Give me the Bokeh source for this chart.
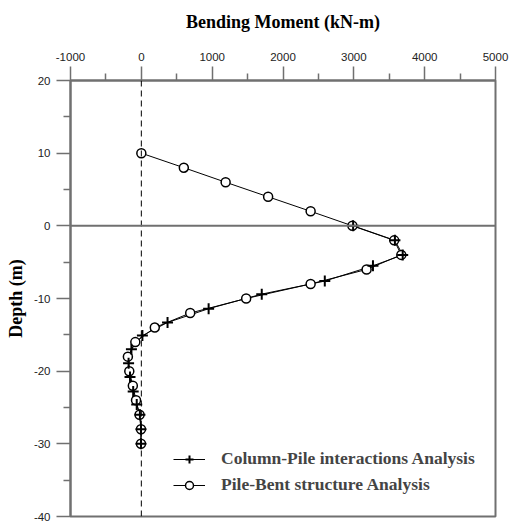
from bokeh.plotting import figure
from bokeh.models import Range1d, FixedTicker, Span, Legend, LegendItem
from bokeh.embed import file_html
from bokeh.resources import INLINE

# Pile-Bent structure Analysis (circles)
depth_pb = [10, 8, 6, 4, 2, 0, -2, -4, -6, -8, -10, -12, -14, -16, -18, -20, -22, -24, -26, -28, -30]
moment_pb = [0, 600, 1190, 1790, 2390, 2980, 3570, 3670, 3180, 2390, 1480, 690, 190, -85, -190,
             -170, -120, -75, -25, -5, -5]

# Column-Pile interactions Analysis (pluses)
depth_cp = [0, -2, -4, -5.5, -7.6, -9.4, -11.4, -13.3, -15.1, -17.0, -18.9, -20.8, -22.8, -24.6,
            -26, -28, -30]
moment_cp = [2990, 3580, 3690, 3270, 2590, 1700, 950, 370, 15, -140, -180, -160, -115, -65,
             -20, -5, -5]

x_ticks = [-1000, 0, 1000, 2000, 3000, 4000, 5000]
x_minor = [-500, 500, 1500, 2500, 3500, 4500]
y_ticks = [-40, -30, -20, -10, 0, 10, 20]
y_minor = [-35, -25, -15, -5, 5, 15]

AX = "#707070"

p = figure(frame_width=425, frame_height=436,
           x_range=Range1d(-1000, 5000), y_range=Range1d(-40, 20),
           x_axis_location="above", output_backend="svg", toolbar_location=None,
           min_border_left=70, min_border_top=80, min_border_right=14, min_border_bottom=6)
p.grid.visible = False
p.outline_line_color = AX
p.outline_line_width = 2
p.outline_line_alpha = 1

for ax, ticks, minor in ((p.xaxis[0], x_ticks, x_minor), (p.yaxis[0], y_ticks, y_minor)):
    ax.ticker = FixedTicker(ticks=ticks, minor_ticks=minor)
    ax.major_label_overrides = {t: str(t) for t in ticks}
    ax.axis_line_color = AX
    ax.axis_line_width = 2
    ax.major_tick_line_color = AX
    ax.major_tick_line_width = 1.5
    ax.minor_tick_line_color = AX
    ax.minor_tick_line_width = 1.5
    ax.major_tick_out = 14
    ax.major_tick_in = 0
    ax.minor_tick_out = 7
    ax.minor_tick_in = 0
    ax.major_label_text_font = "Liberation Sans"
    ax.major_label_text_font_size = "11.5px"
    ax.major_label_text_color = "#222222"
    ax.axis_label_text_font = "Liberation Serif"
    ax.axis_label_text_font_style = "bold"
    ax.axis_label_text_font_size = "18px"
    ax.axis_label_text_color = "black"

p.xaxis[0].major_label_standoff = 6
p.yaxis[0].major_label_standoff = 6
p.xaxis[0].axis_label = "Bending Moment (kN-m)"
p.xaxis[0].axis_label_standoff = 18
p.yaxis[0].axis_label = "Depth (m)"
p.yaxis[0].axis_label_standoff = 5

p.add_layout(Span(location=0, dimension="height", line_color="black", line_width=1, line_dash="6 4"))
p.add_layout(Span(location=0, dimension="width", line_color=AX, line_width=2))

l_pb = p.line(moment_pb, depth_pb, line_color="black", line_width=1)
l_cp = p.line(moment_cp, depth_cp, line_color="black", line_width=1)
s_pb = p.scatter(moment_pb, depth_pb, marker="circle", size=9, fill_color="white",
                 line_color="black", line_width=1.5)
s_cp = p.scatter(moment_cp, depth_cp, marker="cross", size=11, line_color="black", line_width=2)

legend = Legend(items=[
    LegendItem(label="Column-Pile interactions Analysis", renderers=[l_cp, s_cp]),
    LegendItem(label="Pile-Bent structure Analysis", renderers=[l_pb, s_pb]),
], location=(103, 21))
legend.border_line_alpha = 0
legend.background_fill_alpha = 0
legend.label_text_font = "Liberation Serif"
legend.label_text_font_style = "bold"
legend.label_text_font_size = "17.5px"
legend.glyph_width = 32
legend.glyph_height = 20
legend.label_height = 20
legend.label_standoff = 16
legend.spacing = 5
legend.padding = 0
legend.margin = 0
p.add_layout(legend)

open("out.html", "w").write(file_html(p, INLINE))
